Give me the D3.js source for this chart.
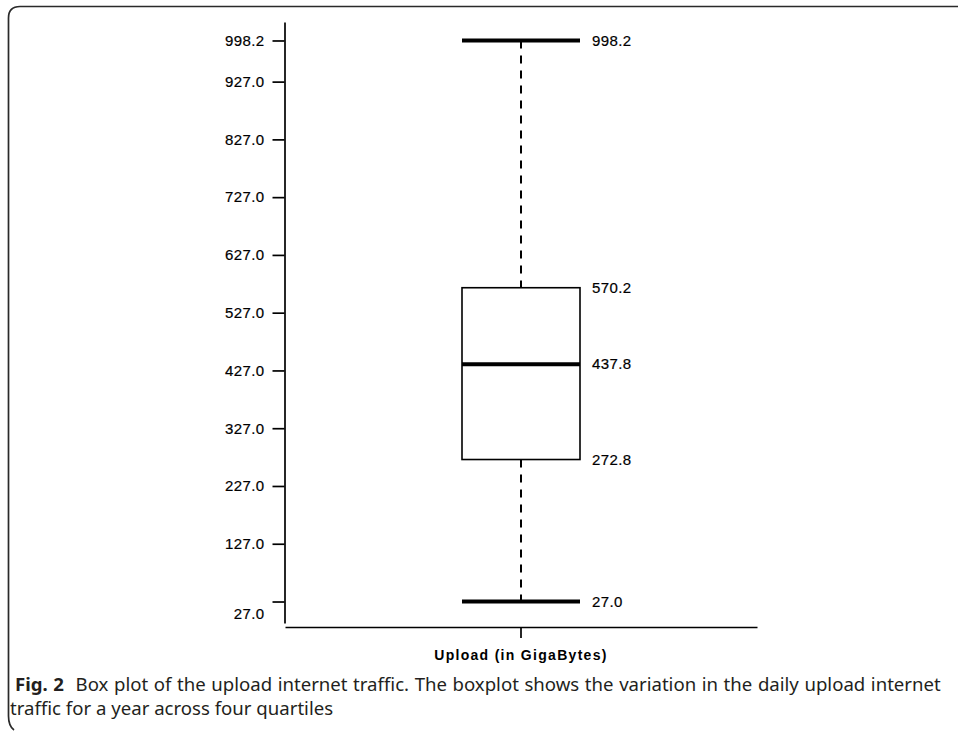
<!DOCTYPE html>
<html>
<head>
<meta charset="utf-8">
<script src="https://cdn.jsdelivr.net/npm/d3@7"></script>
<style>
  body { margin: 0; background: #fff; }
  svg { display: block; }
  .tick text, .val { font-family: "Liberation Sans", Arial, sans-serif; font-size: 15px; letter-spacing: 0.4px; fill: #000; stroke: #000; stroke-width: 0.2px; }
</style>
</head>
<body>
<svg id="chart" width="958" height="731"></svg>
<script>
// box plot values
const category = ["Upload (in GigaBytes)"]
const stats = { min: 27.0, q1: 272.8, median: 437.8, q3: 570.2, max: 998.2 }
const yTicks = [27.0, 127.0, 227.0, 327.0, 427.0, 527.0, 627.0, 727.0, 827.0, 927.0, 998.2]
const captionBold = "Fig. 2"
const captionLines = [
    "Box plot of the upload internet traffic. The boxplot shows the variation in the daily upload internet",
    "traffic for a year across four quartiles"
]

const svg = d3.select("#chart")

// frame round the figure
svg.append("path")
    .attr("d", "M958,6.5 H20 Q8.5,6.5 8.5,18 V716 Q8.5,726 14,730")
    .attr("fill", "none")
    .attr("stroke", "#2a2a2a")
    .attr("stroke-width", 1.7)

let yScale = d3.scaleLinear()
    .domain([-10.2, 1030.2])
    .range([623, 22])

let xScale = d3.scaleBand()
    .domain(category)
    .range([285, 757])

// y axis
let yAxis = svg.append("g")
    .attr("transform", "translate(284.5,0)")
    .call(d3.axisLeft(yScale).tickValues(yTicks).tickFormat(d3.format(".1f")).tickSize(12).tickSizeOuter(0).tickPadding(8))
yAxis.selectAll("path, line").attr("stroke", "#000").attr("stroke-width", 1.7)
// lowest label sits a little under its tick
yAxis.selectAll(".tick text").filter(d => d === yTicks[0]).attr("dy", "1.15em")

// x axis
let xAxis = svg.append("g")
    .attr("transform", "translate(0,627)")
    .call(d3.axisBottom(xScale).tickSize(11).tickSizeOuter(0).tickFormat(""))
xAxis.selectAll("path, line").attr("stroke", "#000").attr("stroke-width", 1.7)

svg.append("text")
    .attr("x", xScale(category[0]) + xScale.bandwidth() / 2)
    .attr("y", 660)
    .attr("text-anchor", "middle")
    .attr("font-family", "Liberation Sans, Arial, sans-serif")
    .attr("font-size", "14px")
    .attr("font-weight", "bold")
    .attr("letter-spacing", "1.3px")
    .text(category[0])

// the box
const cx = xScale(category[0]) + xScale.bandwidth() / 2
const boxW = xScale.bandwidth() * 0.25
const g = svg.append("g")

// whiskers
g.selectAll(".whisker")
    .data([[stats.max, stats.q3], [stats.q1, stats.min]])
    .enter()
    .append("line")
    .attr("class", "whisker")
    .attr("x1", cx).attr("x2", cx)
    .attr("y1", d => yScale(d[0]))
    .attr("y2", d => yScale(d[1]))
    .attr("stroke", "#000")
    .attr("stroke-width", 2)
    .attr("stroke-dasharray", "8,7")

g.append("rect")
    .attr("x", cx - boxW / 2)
    .attr("width", boxW)
    .attr("y", yScale(stats.q3))
    .attr("height", yScale(stats.q1) - yScale(stats.q3))
    .attr("fill", "#fff")
    .attr("stroke", "#000")
    .attr("stroke-width", 1.6)

// caps and median
g.selectAll(".thick")
    .data([stats.max, stats.median, stats.min])
    .enter()
    .append("line")
    .attr("class", "thick")
    .attr("x1", cx - boxW / 2)
    .attr("x2", cx + boxW / 2)
    .attr("y1", d => yScale(d))
    .attr("y2", d => yScale(d))
    .attr("stroke", "#000")
    .attr("stroke-width", 4)

// value labels
g.selectAll(".val")
    .data([stats.max, stats.q3, stats.median, stats.q1, stats.min])
    .enter()
    .append("text")
    .attr("class", "val")
    .attr("x", cx + boxW / 2 + 12)
    .attr("y", d => yScale(d))
    .attr("dy", "0.35em")
    .text(d => d3.format(".1f")(d))

// caption, first line justified to the right edge
const cap = svg.append("g")
    .attr("font-family", "Noto Sans, Open Sans, sans-serif")
    .attr("font-size", "18.6px")
    .attr("fill", "#231f20")
let line1 = cap.append("text").attr("x", 15).attr("y", 691)
line1.append("tspan").attr("font-weight", "bold").text(captionBold)
line1.append("tspan").attr("dx", 6).text(" " + captionLines[0])
const capLeft = 15, capRight = 941
let nSpaces = (captionBold + " " + captionLines[0]).split(" ").length - 1
let ws = 0
for (let k = 0; k < 3; k++) {
    let bb = line1.node().getBBox()
    ws += (capRight - (bb.x + bb.width)) / nSpaces
    line1.attr("word-spacing", ws + "px")
}
cap.append("text").attr("x", 10).attr("y", 715).text(captionLines[1])
</script>
</body>
</html>
